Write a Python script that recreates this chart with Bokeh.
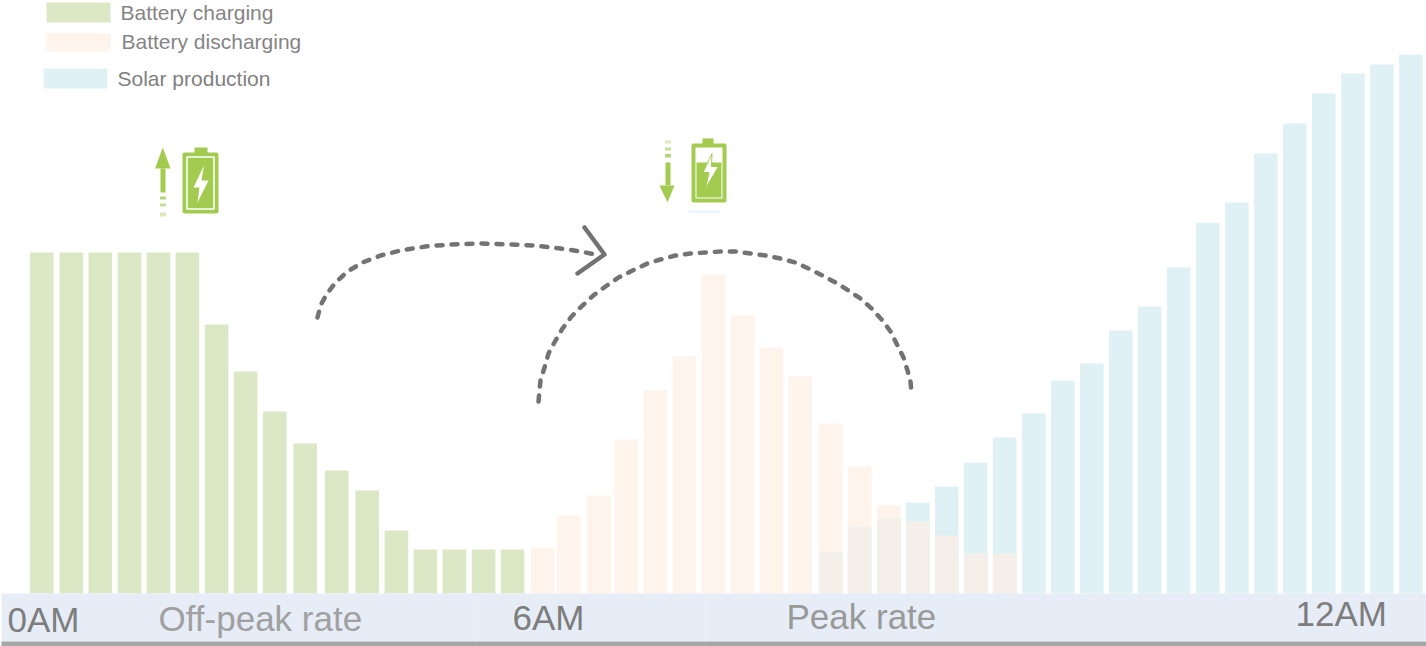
from bokeh.plotting import figure
from bokeh.embed import file_html
from bokeh.resources import INLINE
from bokeh.core.properties import value
from bokeh.models import Range1d

# half-hour slots (bar centres, in slot units)
slots = [0, 1.02, 2.02, 3.03, 4.03, 5.03, 6.04, 7.04, 8.05, 9.1, 10.19, 11.24, 12.25, 13.25, 14.25, 15.26, 16.26,
         17.3, 18.2, 19.24, 20.2, 21.2, 22.2, 23.2, 24.2, 25.2, 26.2, 27.25, 28.25, 29.26, 30.26, 31.26, 32.26, 33.26,
         34.27, 35.27, 36.27, 37.27, 38.27, 39.27, 40.28, 41.28, 42.28, 43.28, 44.28, 45.29, 46.29, 47.29]
charging = [341, 341, 341, 341, 341, 341, 269, 222, 182, 150, 123, 103, 63, 44, 44, 44, 44]
discharging = [46, 78, 98, 154, 203, 237, 319, 278, 246, 217, 170, 127, 88, 72, 58, 40, 40]
solar = [41, 66, 75, 91, 107, 131, 156, 180, 213, 230, 263, 287, 326, 371, 391, 440, 470, 500, 520, 529, 539]
legend_labels = ["Battery charging", "Battery discharging", "Solar production"]
band_labels = ["0AM", "Off-peak rate", "6AM", "Peak rate", "12AM"]

GREEN, ORANGE, BLUE, MIX = "#dce7c6", "#fef4ec", "#e0f1f6", "#f4f0e9"
BAND, RULE, ICON, CURVE, FONT = "#e7edf7", "#a6a6a6", "#a3cb50", "#737373", "Liberation Sans"
WIDTH, HEIGHT, BASE, PITCH, X0 = 1426, 646, 593, 28.95, 41.3

def sx(px):
    return (px - X0) / PITCH

def sy(py):
    return BASE - py

p = figure(width=WIDTH, height=HEIGHT, output_backend="svg", toolbar_location=None,
           x_range=Range1d(sx(0), sx(WIDTH)), y_range=Range1d(sy(HEIGHT), sy(0)),
           min_border=0, outline_line_color=None, background_fill_color="white",
           border_fill_color="white")
p.axis.visible = False
p.grid.visible = False

def box(x0, x1, y0, y1, color):
    p.quad(left=sx(x0), right=sx(x1), top=sy(y0), bottom=sy(y1), fill_color=color, line_color=None)

def poly(pts, color, **kw):
    p.patch([sx(a) for a, b in pts], [sy(b) for a, b in pts], fill_color=color, line_color=kw.get("line", None),
            line_width=kw.get("lw", 1), line_join="round")

def path(pts, color, width, **kw):
    p.line([sx(a) for a, b in pts], [sy(b) for a, b in pts], line_color=color, line_width=width,
           line_cap="round", line_join="round", **kw)

# bars
bw = 23.6 / PITCH
p.vbar(x=slots[:17], top=charging, bottom=0, width=bw, fill_color=GREEN, line_color=None)
p.vbar(x=slots[17:34], top=discharging, bottom=0, width=bw, fill_color=ORANGE, line_color=None)
p.vbar(x=slots[27:], top=solar, bottom=0, width=bw, fill_color=BLUE, line_color=None)
p.vbar(x=slots[27:34], top=[min(a, b) for a, b in zip(discharging[10:], solar[:7])], bottom=0,
       width=bw, fill_color=MIX, line_color=None)

# band under the bars
box(1, WIDTH, BASE, 641, BAND)
box(1, WIDTH, 641, HEIGHT, RULE)
for bx in (475, 705):
    box(bx, bx + 1, BASE, 641, "#eaeff8")

def label(px, py, text, size, color, align="left"):
    p.text(x=[sx(px)], y=[sy(py)], text=[text], text_font=value(FONT), text_font_size=f"{size}px",
           text_color=color, text_align=align, text_baseline="middle")

label(7, 619, band_labels[0], 35, "#7d7d7d")
label(158, 618, band_labels[1], 35, "#a0a0a0")
label(512, 617, band_labels[2], 35, "#7d7d7d")
label(786, 616, band_labels[3], 35, "#999999")
label(1295, 613, band_labels[4], 35, "#7d7d7d")

# legend
box(46, 110, 2, 22, GREEN)
box(46, 110, 33, 51, ORANGE)
box(43, 107, 68, 88, BLUE)
label(120, 12, legend_labels[0], 21, "#858585")
label(121, 41, legend_labels[1], 21, "#858585")
label(117, 78, legend_labels[2], 21, "#808080")

# charging icon
poly([(160, 168), (165, 168), (165, 192), (160, 192)], ICON)
poly([(162.3, 147), (170, 168), (154.5, 168)], ICON)
box(159.5, 165.5, 196, 199, "#b6d578")
box(159.5, 165.5, 203, 206, "#c4dd92")
box(159.5, 165.5, 212, 216, "#dbeabb")
box(194, 207, 147, 153, ICON)
poly([(184, 154), (216, 154), (216, 211), (184, 211)], ICON, line=ICON, lw=4)
path([(186.5, 156.5), (213.5, 156.5), (213.5, 208.5), (186.5, 208.5), (186.5, 156.5)], "white", 1.6)
poly([(203.5, 165), (193, 187), (199, 187), (197, 202), (208, 180), (201, 180)], "white")

# discharging icon
poly([(665, 162), (670, 162), (670, 185), (665, 185)], ICON)
poly([(659, 185), (674, 185), (667, 202)], ICON)
box(664.5, 670.5, 140, 143, "#dbeabb")
box(664.5, 670.5, 147, 150, "#c4dd92")
box(664.5, 670.5, 153.5, 157, "#b6d578")
box(702, 713, 138, 144, ICON)
poly([(693, 145), (724, 145), (724, 200), (693, 200)], "white", line=ICON, lw=4)
box(696, 721, 162, 197, ICON)
poly([(711.5, 153), (702.5, 172), (708.5, 172), (705, 188), (718, 166), (711, 166)], "white", line=ICON, lw=1)
box(688, 720, 210, 212, "#e8f2fa")

# curved arrows
arc_a = [(317, 317), (320, 305), (326, 294), (335, 282), (347, 271), (362, 262), (380, 255), (400, 250), (425, 246),
         (450, 244), (480, 243), (510, 244), (535, 245), (560, 248), (580, 251), (600, 255)]
arc_b = [(538, 401), (539, 390), (540, 380), (544, 367), (548, 353), (555, 340), (562, 328), (571, 316), (582, 305),
         (594, 294), (605, 286), (618, 277), (632, 270), (647, 263), (660, 259), (675, 255), (690, 253), (705, 252),
         (720, 251), (735, 251), (750, 253), (765, 255), (780, 258), (795, 262), (808, 268), (822, 275), (835, 282),
         (848, 290), (860, 298), (871, 308), (882, 320), (890, 331), (897, 345), (903, 357), (907, 370), (910, 381),
         (911, 392)]
path(arc_a, CURVE, 4.5, line_dash="6 9")
path(arc_b, CURVE, 4.5, line_dash="6 9")
path([(584, 227), (604, 254), (577, 273)], CURVE, 4.5)

open("out.html", "w").write(file_html(p, INLINE))
